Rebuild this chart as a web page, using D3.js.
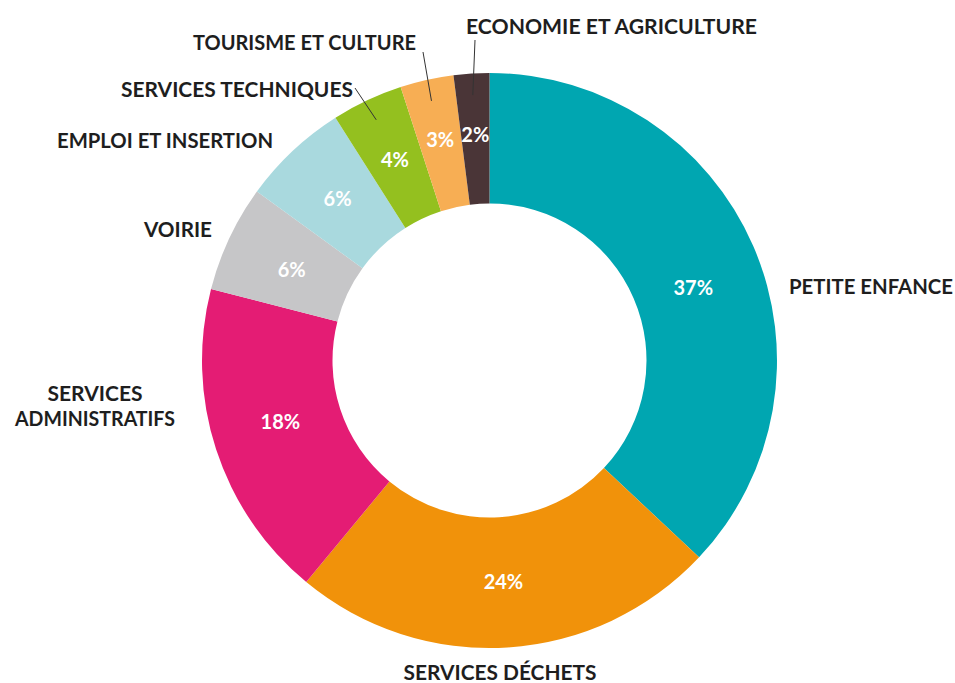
<!DOCTYPE html>
<html>
<head>
<meta charset="utf-8">
<script src="https://cdn.jsdelivr.net/npm/d3@7"></script>
<style>
  body { margin: 0; background: #fff; }
  .cat { font-family: Lato, "Open Sans", sans-serif; font-weight: 700; font-size: 20px; fill: #1e1e1e; }
  .pct { font-family: Lato, "Open Sans", sans-serif; font-weight: 700; font-size: 20px; fill: #fff; }
</style>
</head>
<body>
<div id="chart"></div>
<script>
// data, clockwise from 12 o'clock
var categories = ["PETITE ENFANCE", "SERVICES DÉCHETS", "SERVICES ADMINISTRATIFS", "VOIRIE",
                  "EMPLOI ET INSERTION", "SERVICES TECHNIQUES", "TOURISME ET CULTURE", "ECONOMIE ET AGRICULTURE"];
var shares = [37, 24, 18, 6, 6, 4, 3, 2];
var colors = ["#00a6b1", "#f1920a", "#e41c74", "#c6c6c8", "#a9d9de", "#94c01f", "#f7ae54", "#4a3537"];

// where each category name sits (hand placed, like the original); w = text width
var labelLayout = [
  { lines: ["PETITE ENFANCE"], w: [164], x: 789, y: 294, anchor: "start" },
  { lines: ["SERVICES DÉCHETS"], w: [193], x: 500, y: 680, anchor: "middle" },
  { lines: ["SERVICES", "ADMINISTRATIFS"], w: [95, 160], x: 95, y: 401, anchor: "middle" },
  { lines: ["VOIRIE"], w: [68], x: 212, y: 237, anchor: "end" },
  { lines: ["EMPLOI ET INSERTION"], w: [216], x: 273, y: 148, anchor: "end" },
  { lines: ["SERVICES TECHNIQUES"], w: [232], x: 121, y: 97, anchor: "start", leader: [355, 88] },
  { lines: ["TOURISME ET CULTURE"], w: [223], x: 193, y: 50, anchor: "start", leader: [423, 52] },
  { lines: ["ECONOMIE ET AGRICULTURE"], w: [291], x: 466, y: 34, anchor: "start", leader: [475, 40] }
];
// small shifts of the percent labels away from the exact centroid
var pctNudge = [[0, 15], [0, 0], [2, -7], [3, 4], [0, 0], [0, 0], [0, 0], [0, 0]];

var width = 955, height = 683;
var cx = 489.5, cy = 360.5;
var outerR = 287.5, innerR = 157;

var svg = d3.select("#chart").append("svg")
  .attr("width", width)
  .attr("height", height);

var g = svg.append("g").attr("transform", "translate(" + cx + "," + cy + ")");

var rows = categories.map(function(c, i) { return { name: c, value: shares[i], color: colors[i], i: i }; });

var pie = d3.pie().sort(null).value(function(d) { return d.value; });
var arcs = pie(rows);

var path = d3.arc().innerRadius(innerR).outerRadius(outerR);
var pctArc = d3.arc().innerRadius(222).outerRadius(222);
var smallArc = d3.arc().innerRadius(226).outerRadius(226);
var tipArc = d3.arc().innerRadius(266).outerRadius(266);

g.selectAll("path.slice")
  .data(arcs)
  .enter()
  .append("path")
  .attr("class", "slice")
  .attr("d", path)
  .attr("fill", function(d) { return d.data.color; });

g.selectAll("text.pct")
  .data(arcs)
  .enter()
  .append("text")
  .attr("class", "pct")
  .attr("transform", function(d) {
    // tiny slices: push label a bit outwards
    var c = d.data.value <= 3 ? smallArc.centroid(d) : pctArc.centroid(d);
    var n = pctNudge[d.data.i];
    return "translate(" + (c[0] + n[0]) + "," + (c[1] + n[1]) + ")";
  })
  .attr("text-anchor", "middle")
  .attr("dy", "0.36em")
  .text(function(d) { return d.data.value + "%"; });

// leader lines for the small slices
arcs.forEach(function(d, i) {
  var lay = labelLayout[i];
  if (!lay.leader) return;
  var end = tipArc.centroid(d);
  svg.append("line")
    .attr("x1", lay.leader[0]).attr("y1", lay.leader[1])
    .attr("x2", cx + end[0]).attr("y2", cy + end[1])
    .attr("stroke", "#333")
    .attr("stroke-width", 1);
});

// category names
labelLayout.forEach(function(lay) {
  var t = svg.append("text")
    .attr("class", "cat")
    .attr("text-anchor", lay.anchor);
  lay.lines.forEach(function(line, k) {
    t.append("tspan")
      .attr("x", lay.x)
      .attr("y", lay.y + k * 25)
      .attr("textLength", lay.w[k])
      .attr("lengthAdjust", "spacingAndGlyphs")
      .text(line);
  });
});
</script>
</body>
</html>
